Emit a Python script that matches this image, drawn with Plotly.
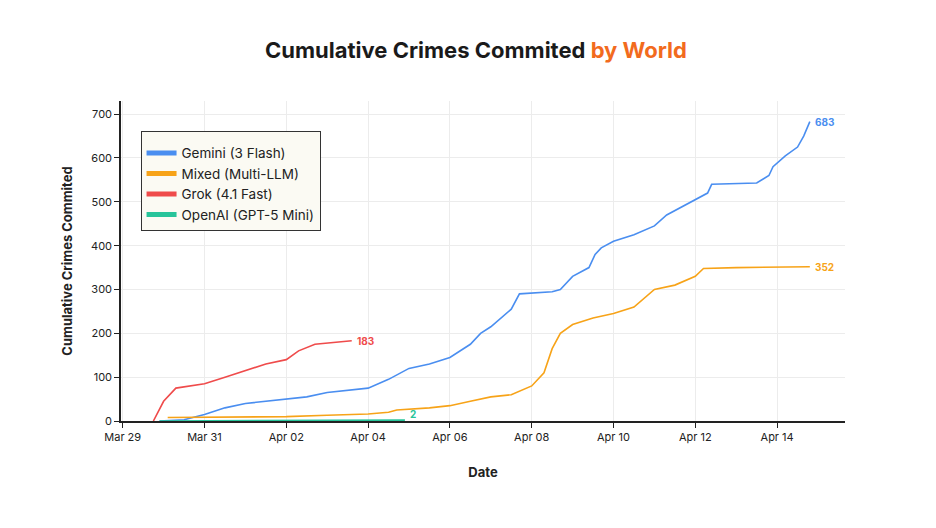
import pandas as pd
import plotly.graph_objects as go

base = pd.Timestamp("2025-03-29")

# day offsets from Mar 29 and cumulative values
gemini_days = [0.9, 1.5, 2.0, 2.5, 3.0, 4.0, 4.5, 5.0, 6.0, 6.5, 7.0, 7.5, 8.0, 8.5, 8.75, 9.0, 9.5, 9.7, 10.0,
               10.5, 10.7, 11.0, 11.4, 11.55, 11.7, 12.0, 12.5, 13.0, 13.3, 13.5, 14.0, 14.3, 14.4, 15.5, 15.8,
               15.9, 16.2, 16.5, 16.65, 16.8]
gemini_vals = [0, 3, 15, 30, 40, 50, 55, 65, 75, 95, 120, 130, 145, 175, 200, 215, 255, 290, 292,
               295, 300, 330, 350, 380, 395, 410, 425, 445, 470, 480, 505, 520, 540, 543, 560,
               580, 605, 625, 650, 683]

mixed_days = [1.1, 3.0, 4.0, 5.0, 6.0, 6.5, 6.7, 7.5, 8.0, 8.5, 9.0, 9.5, 10.0, 10.3, 10.5, 10.7, 10.9,
              11.0, 11.5, 12.0, 12.5, 13.0, 13.5, 14.0, 14.2, 15.0, 16.8]
mixed_vals = [8, 9, 10, 13, 16, 20, 25, 30, 35, 45, 55, 60, 80, 110, 165, 200, 212,
              220, 235, 245, 260, 300, 310, 330, 348, 350, 352]

grok_days = [0.75, 1.0, 1.3, 1.7, 2.0, 2.5, 3.0, 3.5, 4.0, 4.3, 4.7, 5.6]
grok_vals = [0, 45, 75, 80, 85, 100, 115, 130, 140, 160, 175, 183]

openai_days = [0.9, 3.5, 6.9]
openai_vals = [0, 1, 2]

series = [
    ("Gemini (3 Flash)", gemini_days, gemini_vals, "#4a8ef0", "683", 0),
    ("Mixed (Multi-LLM)", mixed_days, mixed_vals, "#f7a318", "352", 0),
    ("Grok (4.1 Fast)", grok_days, grok_vals, "#ef4b4b", "183", 0),
    ("OpenAI (GPT-5 Mini)", openai_days, openai_vals, "#27c49a", "2", 6),
]

tick_days = [0, 2, 4, 6, 8, 10, 12, 14, 16]
tick_labels = ["Mar 29", "Mar 31", "Apr 02", "Apr 04", "Apr 06", "Apr 08", "Apr 10", "Apr 12", "Apr 14"]

def to_dates(days):
    return [base + pd.Timedelta(days=d) for d in days]

fig = go.Figure()
for name, d, v, col, lab, up in series:
    x = to_dates(d)
    fig.add_trace(go.Scatter(x=x, y=v, name=name, mode="lines", showlegend=False,
                             line=dict(color=col, width=1.6)))
    # thick legend swatch
    fig.add_trace(go.Scatter(x=[None], y=[None], name=name, mode="lines",
                             line=dict(color=col, width=5)))
    fig.add_annotation(x=x[-1], y=v[-1], text="<b>" + lab + "</b>", showarrow=False,
                       xanchor="left", xshift=3, yshift=up, yanchor="middle",
                       font=dict(color=col, size=10))

fig.update_layout(
    width=936, height=528,
    margin=dict(l=113, r=99, t=93, b=115),
    paper_bgcolor="white", plot_bgcolor="white",
    font=dict(family="Inter, sans-serif", color="#222", size=11),
    title=dict(text="<b>Cumulative Crimes Commited <span style='color:#f26b1d'>by World</span></b>",
               x=0.5, xanchor="center", y=0.935, font=dict(size=22, color="#1a1a1a")),
    legend=dict(x=0.027, y=0.905, xanchor="left", yanchor="top",
                bgcolor="#fbfaf3", bordercolor="#333", borderwidth=1,
                font=dict(size=13.5), itemwidth=30, entrywidth=175,
                title=dict(text=" ", font=dict(size=4))),
    showlegend=True,
)
fig.update_xaxes(
    title=dict(text="<b>Date</b>", font=dict(size=13), standoff=25),
    range=[base - pd.Timedelta(hours=1), base + pd.Timedelta(days=17.66)],
    tickvals=to_dates(tick_days), ticktext=tick_labels,
    showgrid=True, gridcolor="#ececec", showline=True, linecolor="#222", linewidth=1.5,
    ticks="outside", ticklen=5, tickcolor="#222", zeroline=False,
)
fig.update_yaxes(
    title=dict(text="<b>Cumulative Crimes Commited</b>", font=dict(size=13), standoff=15),
    range=[0, 730], tickvals=[0, 100, 200, 300, 400, 500, 600, 700],
    showgrid=True, gridcolor="#ececec", showline=True, linecolor="#222", linewidth=1.5,
    ticks="outside", ticklen=5, tickcolor="#222", zeroline=False,
)

fig.write_html("out.html")
